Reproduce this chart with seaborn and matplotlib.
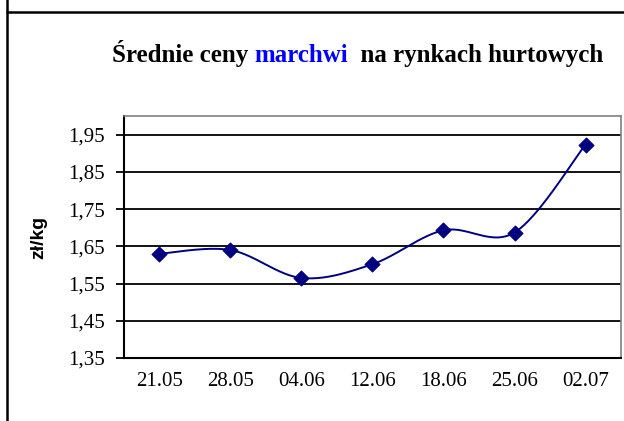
import numpy as np
import pandas as pd
import matplotlib
matplotlib.use('Agg')
import matplotlib.pyplot as plt
import seaborn as sns
from matplotlib.lines import Line2D

# data
dates = ['21.05', '28.05', '04.06', '12.06', '18.06', '25.06', '02.07']
prices = [1.63, 1.64, 1.565, 1.602, 1.693, 1.687, 1.923]
yticks = [1.35, 1.45, 1.55, 1.65, 1.75, 1.85, 1.95]
ytick_labels = ['1,35', '1,45', '1,55', '1,65', '1,75', '1,85', '1,95']

navy = '#000080'
serif = 'Liberation Serif'


def smooth(xs, ys, n=40):
    # excel-style bezier smoothing between points
    pts = np.column_stack([xs, ys]).astype(float)
    out = []
    for i in range(len(pts) - 1):
        p0 = pts[max(i - 1, 0)]
        p1 = pts[i]
        p2 = pts[i + 1]
        p3 = pts[min(i + 2, len(pts) - 1)]
        c1 = p1 + (p2 - p0) / 6
        c2 = p2 - (p3 - p1) / 6
        t = np.linspace(0, 1, n)[:, None]
        seg = (1 - t) ** 3 * p1 + 3 * (1 - t) ** 2 * t * c1 + 3 * (1 - t) * t ** 2 * c2 + t ** 3 * p2
        out.append(seg if i == 0 else seg[1:])
    return np.vstack(out)


df = pd.DataFrame({'pos': np.arange(len(dates)), 'price': prices})
curve = smooth(df['pos'], df['price'])
curve_df = pd.DataFrame(curve, columns=['pos', 'price'])

sns.set_style('white')
plt.rcParams.update({'text.color': 'black', 'axes.labelcolor': 'black',
                     'xtick.color': 'black', 'ytick.color': 'black'})
fig = plt.figure(figsize=(6.24, 4.21), dpi=100)
ax = fig.add_axes([0.1987, 0.1496, 0.7965, 0.5749])

for y in yticks[1:]:
    ax.axhline(y, color='black', lw=1.3, zorder=1)

sns.lineplot(data=curve_df, x='pos', y='price', color=navy, lw=1.4, ax=ax,
             sort=False, estimator=None, zorder=3)
sns.scatterplot(data=df, x='pos', y='price', marker='D', s=60, color=navy,
                edgecolor=navy, ax=ax, zorder=4)

ax.set_xlim(-0.5, len(dates) - 0.5)
ax.set_ylim(1.35, 2.0)
ax.set_yticks(yticks)
ax.set_yticklabels(ytick_labels, fontfamily=serif, fontsize=15)
ax.set_xticks(np.arange(len(dates)))
ax.set_xticklabels(dates, fontfamily=serif, fontsize=15)
ax.set_xticks(np.arange(len(dates) + 1) - 0.5, minor=True)
ax.tick_params(axis='x', which='major', length=0, pad=10)
ax.tick_params(axis='x', which='minor', length=6, width=1.3, direction='out', color='black')
ax.tick_params(axis='y', length=6, width=1.3, direction='out', color='black', pad=8, left=True)
ax.set_xlabel('')
ax.set_ylabel('zł/kg', fontfamily='Liberation Sans', fontweight='bold', fontsize=14,
              labelpad=15, color='black')

for side in ['left', 'bottom']:
    ax.spines[side].set_color('black')
    ax.spines[side].set_linewidth(1.5)
for side in ['top', 'right']:
    ax.spines[side].set_color('#808080')
    ax.spines[side].set_linewidth(1.2)

# title with coloured word
tstyle = dict(fontfamily=serif, fontweight='bold', fontsize=18)
t1 = fig.text(0.1795, 0.853, 'Średnie ceny ', va='baseline', ha='left', color='black', **tstyle)
t2 = ax.annotate('marchwi', xy=(1, 0), xycoords=t1, va='bottom', ha='left',
                 color='#0000FF', **tstyle)
ax.annotate('  na rynkach hurtowych', xy=(1, 0), xycoords=t2, va='bottom', ha='left',
            color='black', **tstyle)

# outer chart frame
fig.add_artist(Line2D([0.0105, 0.0105], [0, 1], color='black', lw=1.8))
fig.add_artist(Line2D([0.0105, 1], [0.971, 0.971], color='black', lw=1.8))

fig.savefig('out.png', dpi=100)
